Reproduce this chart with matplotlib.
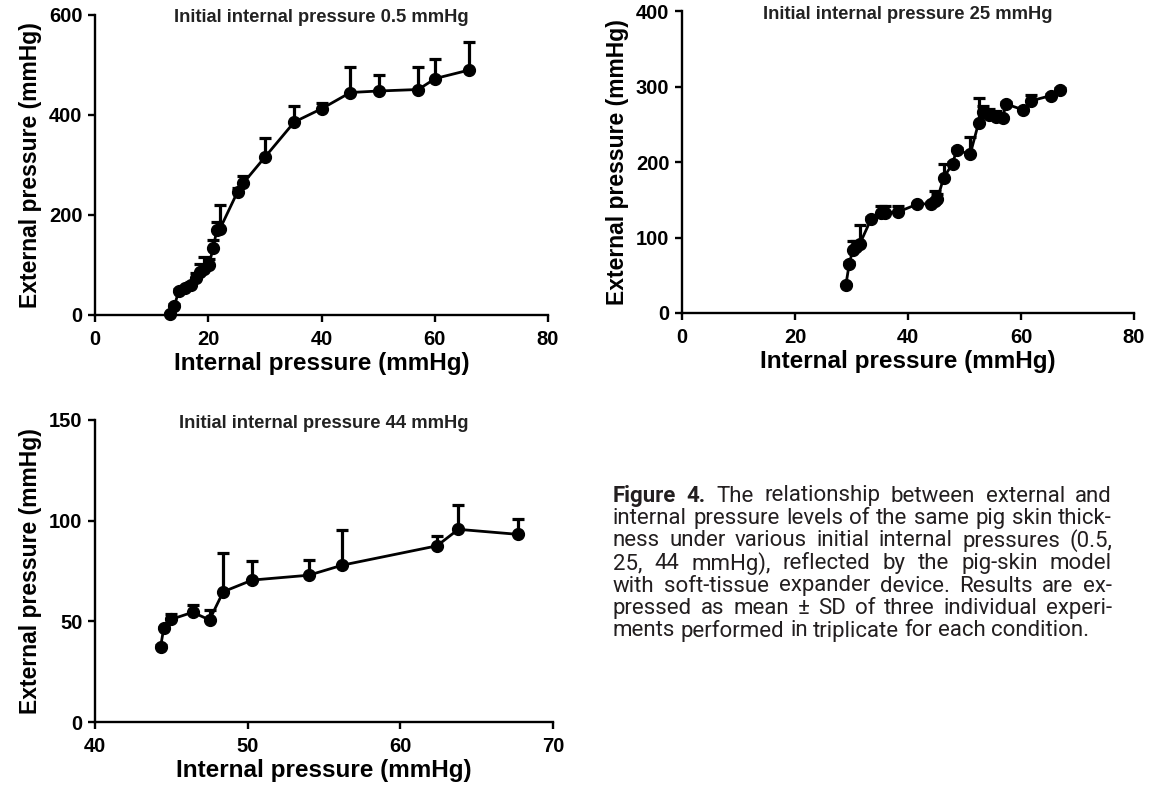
import matplotlib.pyplot as plt
import numpy as np

# Panel A: initial internal pressure 0.5 mmHg
x1 = [13.2, 14.0, 14.8, 15.9, 16.9, 17.9, 18.6, 19.3, 20.1, 20.9, 21.5, 22.1,
      25.2, 26.2, 30.1, 35.2, 40.1, 45.1, 50.1, 57.1, 60.1, 66.1]
y1 = [3, 18, 48, 55, 61, 75, 86, 92, 100, 135, 170, 173,
      247, 264, 317, 386, 413, 445, 448, 451, 473, 490]
e1 = [2, 5, 4, 4, 5, 10, 17, 25, 12, 15, 17, 48,
      8, 15, 37, 33, 12, 52, 32, 46, 40, 57]

# Panel B: initial internal pressure 25 mmHg
x2 = [29.0, 29.6, 30.2, 30.8, 31.5, 33.5, 35.2, 36.0, 38.3, 41.6, 44.1, 44.8,
      45.2, 46.3, 47.9, 48.6, 51.0, 52.5, 53.3, 54.3, 55.5, 56.8, 57.3, 60.4,
      61.8, 65.3, 66.9]
y2 = [37, 65, 83, 88, 92, 125, 132, 133, 134, 144, 145, 148,
      151, 179, 198, 216, 210, 252, 266, 262, 259, 258, 277, 269,
      281, 288, 296]
e2 = [2, 2, 13, 8, 24, 2, 10, 9, 8, 2, 2, 14,
      6, 19, 2, 2, 23, 33, 8, 8, 8, 2, 2, 2,
      8, 2, 2]

# Panel C: initial internal pressure 44 mmHg
x3 = [44.3, 44.5, 45.0, 46.4, 47.5, 48.4, 50.3, 54.0, 56.2, 62.4, 63.8, 67.7]
y3 = [37.5, 46.5, 51.0, 54.5, 50.7, 64.7, 70.5, 72.9, 77.9, 87.5, 95.7, 93.2]
e3 = [0.5, 0.5, 2.5, 3.5, 4.9, 19.3, 9.4, 7.5, 17.3, 4.9, 12.2, 7.8]

titles = ["Initial internal pressure 0.5 mmHg",
          "Initial internal pressure 25 mmHg",
          "Initial internal pressure 44 mmHg"]

caption_lines = [
    "Figure 4. The relationship between external and",
    "internal pressure levels of the same pig skin thick-",
    "ness under various initial internal pressures (0.5,",
    "25, 44 mmHg), reflected by the pig-skin model",
    "with soft-tissue expander device. Results are ex-",
    "pressed as mean \u00b1 SD of three individual experi-",
    "ments performed in triplicate for each condition.",
]

plt.rcParams['font.family'] = ['Liberation Sans', 'DejaVu Sans']

W, H = 1153, 799
fig = plt.figure(figsize=(W / 100, H / 100), dpi=100)


def add_axes_px(left, top, right, bottom):
    return fig.add_axes([left / W, 1 - bottom / H, (right - left) / W, (bottom - top) / H])


panels = [
    (x1, y1, e1, titles[0], (95, 15, 548, 315), (0, 80), [0, 20, 40, 60, 80], (0, 600), [0, 200, 400, 600]),
    (x2, y2, e2, titles[1], (682, 11, 1134, 313), (0, 80), [0, 20, 40, 60, 80], (0, 400), [0, 100, 200, 300, 400]),
    (x3, y3, e3, titles[2], (95, 420, 553, 722), (40, 70), [40, 50, 60, 70], (0, 150), [0, 50, 100, 150]),
]

for x, y, e, title, box, xlim, xticks, ylim, yticks in panels:
    ax = add_axes_px(*box)
    ax.errorbar(x, y, yerr=[np.zeros(len(e)), e], fmt='-o', color='black',
                lw=2.0, ms=8.5, elinewidth=2.3, capsize=4.5, capthick=2.3, clip_on=False)
    ax.set_xlim(*xlim)
    ax.set_ylim(*ylim)
    ax.set_xticks(xticks)
    ax.set_yticks(yticks)
    for s in ['top', 'right']:
        ax.spines[s].set_visible(False)
    for s in ['left', 'bottom']:
        ax.spines[s].set_linewidth(1.7)
    ax.tick_params(axis='x', direction='out', length=5, width=1.7, labelsize=14.5, pad=6)
    ax.tick_params(axis='y', direction='out', length=5, width=1.7, labelsize=14.5, pad=4)
    for lab in ax.get_xticklabels() + ax.get_yticklabels():
        lab.set_fontweight('bold')
    ax.set_xlabel('Internal pressure (mmHg)', fontsize=17.5, fontweight='bold', labelpad=2)
    ax.set_ylabel('External pressure (mmHg)', fontsize=16.5, fontweight='bold', labelpad=5)
    ax.text(0.5, 0.99, title, transform=ax.transAxes, ha='center', va='center',
            fontsize=13.2, fontweight='bold', color='#222222')

# Justified caption, word by word
cap_font = ['Roboto', 'DejaVu Sans']
cap_left, cap_right = 613, 1112
cap_top, cap_step = 496, 22.5
renderer = fig.canvas.get_renderer()


def measure(s, size, weight):
    t = fig.text(0, 0, s, fontsize=size, fontweight=weight, family=cap_font)
    w = t.get_window_extent(renderer=renderer).width
    t.remove()
    return w


base = 11
cap_size = base * 474 / measure(caption_lines[-1], base, 'normal')
space = measure('a a', cap_size, 'normal') - measure('aa', cap_size, 'normal')

for i, line in enumerate(caption_lines):
    words = line.split(' ')
    weights = ['bold' if (i == 0 and j < 2) else 'normal' for j in range(len(words))]
    widths = [measure(w, cap_size, wt) for w, wt in zip(words, weights)]
    if i < len(caption_lines) - 1:
        gap = (cap_right - cap_left - sum(widths)) / (len(words) - 1)
    else:
        gap = space
    xp = cap_left
    yp = cap_top + i * cap_step
    for w, wt, wd in zip(words, weights, widths):
        fig.text(xp / W, 1 - yp / H, w, fontsize=cap_size, fontweight=wt, family=cap_font,
                 ha='left', va='center', color='#231f20')
        xp += wd + gap

fig.savefig('out.png', dpi=100)
